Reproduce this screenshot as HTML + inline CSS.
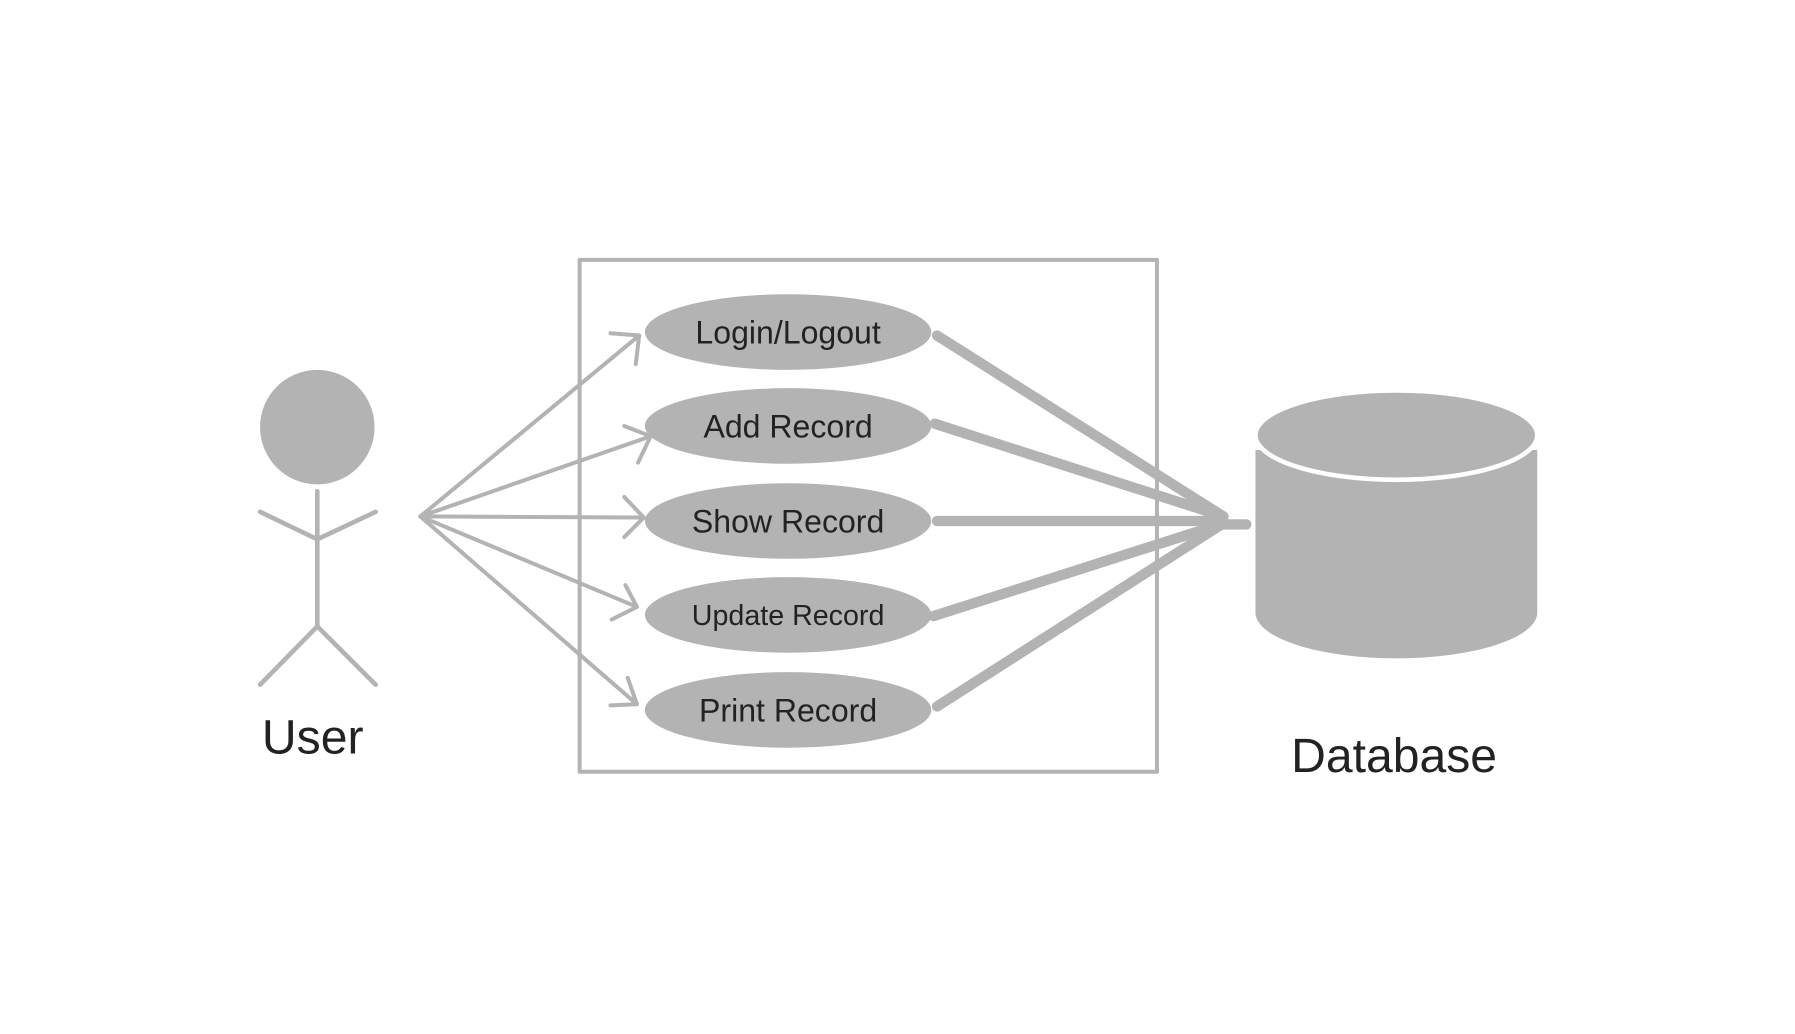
<!DOCTYPE html>
<html><head><style>html,body{margin:0;padding:0;background:#fff;}svg{display:block}</style></head>
<body>
<svg width="1795" height="1034" viewBox="0 0 1567 903" preserveAspectRatio="none" xmlns="http://www.w3.org/2000/svg">
<rect width="1567" height="903" fill="#fff"/>
<g stroke="#b3b3b3" fill="none" stroke-linecap="round" stroke-linejoin="round">
<rect x="506" y="227" width="504" height="447" stroke-width="3.5"/>
<g stroke-width="4">
<circle cx="277" cy="373" r="50" fill="#b3b3b3" stroke="none"/>
<line x1="277" y1="429" x2="277" y2="547"/>
<polyline points="227,447 277,471 328,447"/>
<polyline points="227,598 277,547 328,598"/>
</g>
<g stroke-width="3.5">
<line x1="367" y1="451" x2="558" y2="293"/><polyline points="533,291 558,293 555,318"/>
<line x1="367" y1="451" x2="568" y2="381"/><polyline points="545,372 568,381 557,404"/>
<line x1="367" y1="451" x2="562" y2="452"/><polyline points="545,434 562,452 545,469"/>
<line x1="367" y1="451" x2="556" y2="530"/><polyline points="546,511 556,530 534,541"/>
<line x1="367" y1="451" x2="556" y2="615"/><polyline points="548,592 556,615 533,616"/>
</g>
<g stroke-width="9">
<line x1="818" y1="293" x2="1068" y2="451"/>
<line x1="816" y1="370" x2="1068" y2="451"/>
<line x1="818" y1="455" x2="1068" y2="455"/>
<line x1="815" y1="538" x2="1068" y2="457"/>
<line x1="818" y1="617" x2="1068" y2="457"/>
<line x1="1060" y1="458" x2="1088" y2="458"/>
</g>
</g>
<g fill="#b3b3b3">
<ellipse cx="688" cy="290" rx="125" ry="33"/>
<ellipse cx="688" cy="372" rx="125" ry="33"/>
<ellipse cx="688" cy="455" rx="125" ry="33"/>
<ellipse cx="688" cy="537" rx="125" ry="33"/>
<ellipse cx="688" cy="620" rx="125" ry="33"/>
<path d="M1096,393 L1096,535 A123,40 0 0 0 1342,535 L1342,393 Z"/>
<ellipse cx="1219" cy="380" rx="123" ry="39" stroke="#fff" stroke-width="4"/>
</g>
<g font-family="Liberation Sans, sans-serif" fill="#222" text-anchor="middle">
<text x="688" y="300" font-size="28">Login/Logout</text>
<text x="688" y="382" font-size="28">Add Record</text>
<text x="688" y="465" font-size="28">Show Record</text>
<text x="688" y="546" font-size="25">Update Record</text>
<text x="688" y="630" font-size="28">Print Record</text>
<text x="273" y="658" font-size="42">User</text>
<text x="1217" y="674" font-size="42">Database</text>
</g>
</svg>
</body></html>
